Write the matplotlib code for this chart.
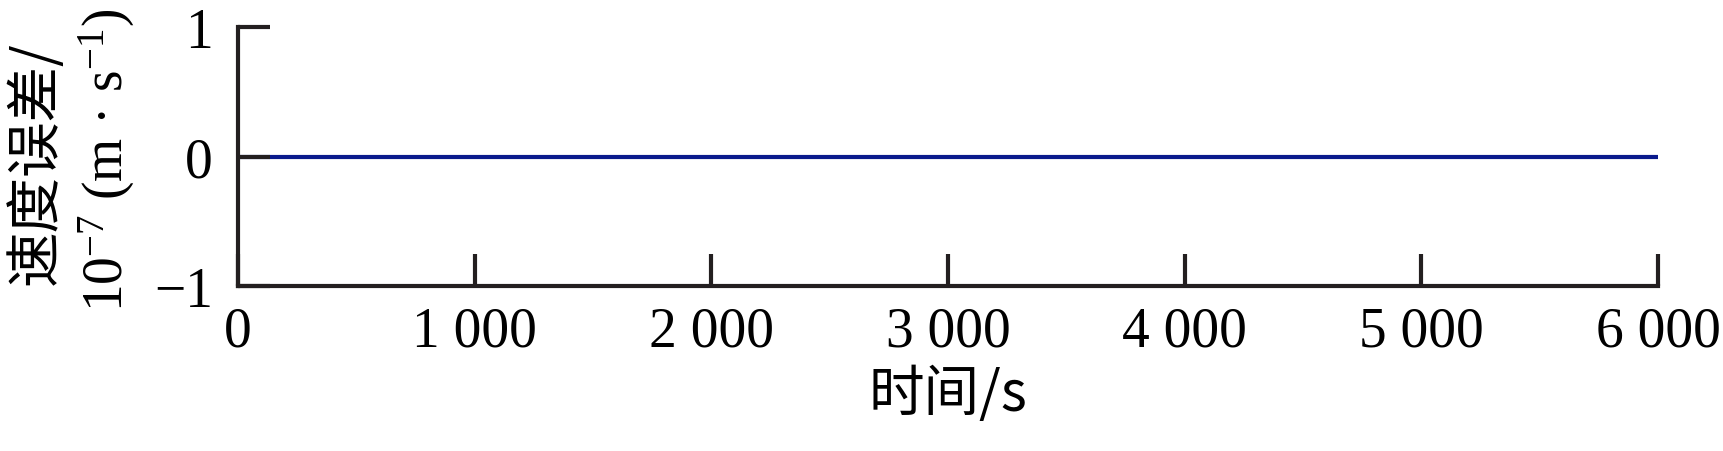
import numpy as np
import matplotlib.pyplot as plt

plt.rcParams['font.family'] = ['Liberation Serif', 'Noto Sans CJK SC']
plt.rcParams['mathtext.fontset'] = 'custom'
plt.rcParams['mathtext.rm'] = 'Liberation Serif'
plt.rcParams['mathtext.it'] = 'Liberation Serif:italic'
plt.rcParams['axes.unicode_minus'] = True

# data
time_s = [0, 6000]
vel_err = [0, 0]
xticks = [0, 1000, 2000, 3000, 4000, 5000, 6000]
xtick_labels = ['0', '1 000', '2 000', '3 000', '4 000', '5 000', '6 000']
yticks = [-1, 0, 1]
ytick_labels = ['\u22121', '0', '1']

fig = plt.figure(figsize=(17.24, 4.52), dpi=100)
ax = fig.add_axes([0.138, 0.365, 0.9617 - 0.138, 0.938 - 0.365])

ax.plot(time_s, vel_err, color='#0a1a8c', lw=3, zorder=1)

ax.set_xlim(0, 6000)
ax.set_ylim(-1, 1)
ax.set_xticks(xticks)
ax.set_xticklabels(xtick_labels)
ax.set_yticks(yticks)
ax.set_yticklabels(ytick_labels)

for s in ['top', 'right']:
    ax.spines[s].set_visible(False)
for s in ['left', 'bottom']:
    ax.spines[s].set_linewidth(3)
    ax.spines[s].set_color('#231f20')

ax.tick_params(axis='both', direction='in', length=23, width=3, color='#231f20',
               labelsize=40, pad=18, zorder=3)
ax.tick_params(axis='x', pad=14)

ax.set_xlabel('时间/s', fontsize=40, labelpad=6,
              family=['Noto Sans CJK SC', 'Liberation Serif'])

fig.text(0.021, 0.64, '速度误差/', rotation=90, fontsize=40, ha='center', va='center',
         family=['Noto Sans CJK SC', 'Liberation Serif'])
fig.text(0.062, 0.646, '10$^{-7}$ (m · s$^{-1}$)', rotation=90, fontsize=40,
         ha='center', va='center')

fig.savefig('out.png', dpi=100)
